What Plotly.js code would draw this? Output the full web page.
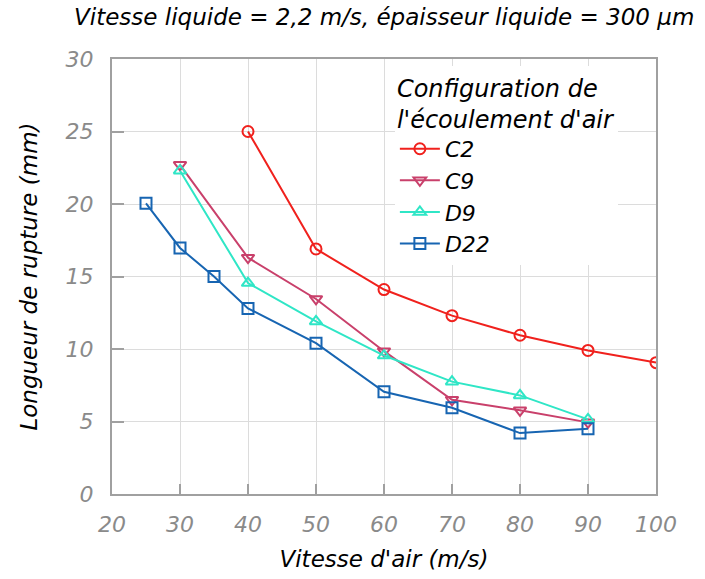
<!DOCTYPE html>
<html><head><meta charset="utf-8">
<script src="https://cdn.plot.ly/plotly-3.0.1.min.js"></script>
<style>html,body{margin:0;padding:0;background:#fff;}#chart{width:705px;height:579px;}</style>
</head><body><div id="chart"></div>
<script>
const seriesNames = ["C2", "C9", "D9", "D22"];
const xC2 = [40, 50, 60, 70, 80, 90, 100];
const yC2 = [25.0, 16.9, 14.1, 12.3, 10.95, 9.9, 9.06];
const xC9 = [30, 40, 50, 60, 70, 80, 90];
const yC9 = [22.7, 16.3, 13.45, 9.85, 6.5, 5.77, 4.94];
const xD9 = [30, 40, 50, 60, 70, 80, 90];
const yD9 = [22.3, 14.55, 11.9, 9.55, 7.75, 6.8, 5.15];
const xD22 = [25, 30, 35, 40, 50, 60, 70, 80, 90];
const yD22 = [20.05, 16.97, 15.0, 12.8, 10.4, 7.05, 5.95, 4.2, 4.5];
const xTicks = [20, 30, 40, 50, 60, 70, 80, 90, 100];
const yTicks = [0, 5, 10, 15, 20, 25, 30];

const colors = ["#f0211d", "#c9406b", "#2fe6c6", "#1765b2"];
const symbols = ["circle-open", "triangle-down-open", "triangle-up-open", "square-open"];
const xs = [xC2, xC9, xD9, xD22];
const ys = [yC2, yC9, yD9, yD22];

const traces = seriesNames.map((n, i) => ({
  type: "scatter", mode: "lines+markers", name: "<i>" + n + "</i>",
  x: xs[i], y: ys[i],
  line: {color: colors[i], width: 2},
  marker: {symbol: symbols[i], size: 11, color: colors[i], line: {width: 2, color: colors[i]}}
}));

const font = "DejaVu Sans, sans-serif";
const fs = 23;
const layout = {
  width: 705, height: 579,
  margin: {l: 112, r: 49, t: 59, b: 85},
  paper_bgcolor: "#fff", plot_bgcolor: "#fff",
  font: {family: font, size: fs, color: "#000"},
  title: {text: "<i>Vitesse liquide = 2,2 m/s, épaisseur liquide = 300 µm</i>", x: 0.545, xanchor: "center", y: 0.97, yanchor: "middle", font: {family: font, size: fs, color: "#000"}},
  xaxis: {
    range: [20, 100], tickvals: xTicks, ticktext: xTicks.map(v => "<i>" + v + "</i>"),
    tickfont: {family: font, size: 22, color: "#8a8a8a"},
    ticks: "inside", ticklen: 10, tickwidth: 2, tickcolor: "#a0a0a0",
    ticklabelstandoff: 10,
    showline: true, linecolor: "#a0a0a0", linewidth: 2, mirror: true,
    showgrid: true, gridcolor: "#dcdcdc", gridwidth: 1, zeroline: false,
    title: {text: "<i>Vitesse d'air (m/s)</i>", font: {family: font, size: fs, color: "#000"}, standoff: 14}
  },
  yaxis: {
    range: [0, 30], tickvals: yTicks, ticktext: yTicks.map(v => "<i>" + v + "</i>"),
    tickfont: {family: font, size: 22, color: "#8a8a8a"},
    ticks: "inside", ticklen: 12, tickwidth: 2, tickcolor: "#a0a0a0",
    ticklabelstandoff: 12,
    showline: true, linecolor: "#a0a0a0", linewidth: 2, mirror: true,
    showgrid: true, gridcolor: "#dcdcdc", gridwidth: 1, zeroline: false,
    title: {text: "<i>Longueur de rupture (mm)</i>", font: {family: font, size: fs, color: "#000"}, standoff: 22}
  },
  legend: {
    x: 0.52, y: 0.985, xanchor: "left", yanchor: "top",
    bgcolor: "#fff", borderwidth: 0,
    font: {family: font, size: 22, color: "#000"},
    title: {text: "<i>Configuration de<br>l'écoulement d'air</i>", font: {family: font, size: 24, color: "#000"}, side: "top"},
    itemwidth: 40, tracegroupgap: 0
  },
  showlegend: true
};
Plotly.newPlot("chart", traces, layout, {displayModeBar: false, staticPlot: true});
</script></body></html>
